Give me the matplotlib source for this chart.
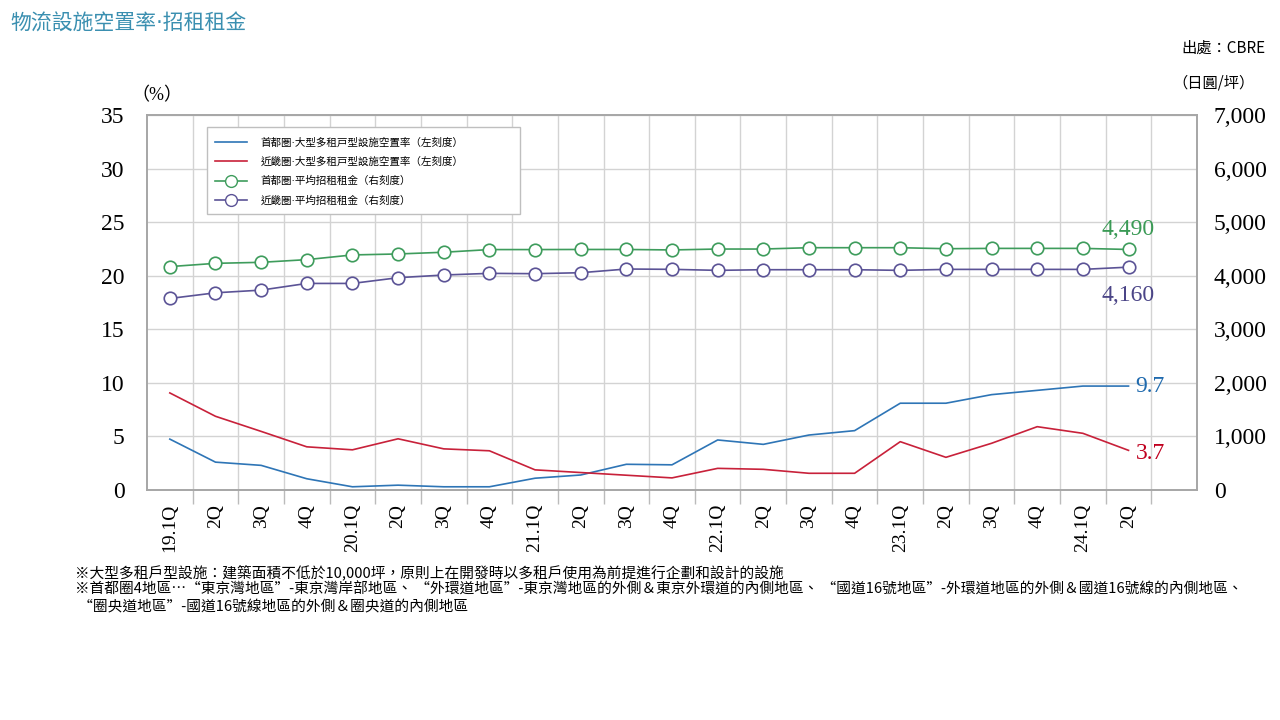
import matplotlib
matplotlib.use("Agg")
import matplotlib.pyplot as plt
from matplotlib.lines import Line2D
from matplotlib.patches import Rectangle

CJK = ["Noto Sans CJK TC", "DejaVu Sans"]
DOTCJK = ["DejaVu Sans", "Noto Sans CJK TC"]
SERIF = ["Liberation Serif", "DejaVu Serif"]

quarters = ["19.1Q", "2Q", "3Q", "4Q", "20.1Q", "2Q", "3Q", "4Q", "21.1Q", "2Q", "3Q", "4Q",
            "22.1Q", "2Q", "3Q", "4Q", "23.1Q", "2Q", "3Q", "4Q", "24.1Q", "2Q"]

vac_tokyo = [4.75, 2.6, 2.3, 1.05, 0.3, 0.45, 0.3, 0.3, 1.1, 1.4, 2.4, 2.35,
             4.67, 4.26, 5.13, 5.54, 8.1, 8.1, 8.9, 9.3, 9.7, 9.7]
vac_kinki = [9.06, 6.88, 5.47, 4.03, 3.75, 4.78, 3.84, 3.66, 1.88, 1.63, 1.38, 1.13,
             2.02, 1.93, 1.56, 1.56, 4.51, 3.05, 4.36, 5.91, 5.29, 3.7]
rent_tokyo = [4170, 4231, 4250, 4300, 4388, 4406, 4438, 4488, 4488, 4490, 4490, 4481,
              4498, 4498, 4523, 4523, 4523, 4504, 4510, 4510, 4510, 4490]
rent_kinki = [3575, 3681, 3731, 3856, 3856, 3963, 4013, 4044, 4038, 4056, 4125, 4119,
              4100, 4112, 4112, 4112, 4100, 4118, 4118, 4118, 4118, 4160]

legend_labels = ["首都圏·大型多租戸型設施空置率（左刻度）",
                 "近畿圏·大型多租戸型設施空置率（左刻度）",
                 "首都圏·平均招租租金（右刻度）",
                 "近畿圏·平均招租租金（右刻度）"]

c_blue = "#2E75B6"
c_red = "#C8213A"
c_green = "#3E9C5C"
c_purple = "#5B5396"

fig = plt.figure(figsize=(12.8, 7.2), dpi=100)
ax = fig.add_axes([147/1280, 1-490/720, 1050/1280, 375/720])
ax2 = ax.twinx()

x = list(range(len(quarters)))
ax.plot(x, vac_tokyo, color=c_blue, lw=1.2, zorder=3)
ax.plot(x, vac_kinki, color=c_red, lw=1.2, zorder=3)
ax2.plot(x, rent_tokyo, color=c_green, lw=1.2, marker="o", ms=9,
         mfc="white", mec=c_green, mew=1.2, zorder=3)
ax2.plot(x, rent_kinki, color=c_purple, lw=1.2, marker="o", ms=9,
         mfc="white", mec=c_purple, mew=1.2, zorder=3)

ax.set_xlim(-0.5, 22.5)
ax.set_ylim(0, 35)
ax2.set_ylim(0, 7000)
ax.set_yticks(range(0, 36, 5))
ax2.set_yticks(range(0, 7001, 1000))
ax2.set_yticklabels([f"{v:,}" for v in range(0, 7001, 1000)])

for yv in range(5, 36, 5):
    ax.axhline(yv, color="#D3D3D3", lw=1.0, zorder=0)
for k in range(1, 23):
    ax.axvline(k - 0.5, color="#D3D3D3", lw=1.0, zorder=0)

ax.set_xticks(x)
ax.set_xticklabels(quarters, rotation=90, family=SERIF, fontsize=14, va="top")
ax.tick_params(axis="x", length=0, pad=10)
ax.set_xticks([k - 0.5 for k in range(1, 23)], minor=True)
ax.tick_params(axis="x", which="minor", length=10, color="#BBBBBB", width=1)

ax.tick_params(axis="y", length=0, pad=16, labelsize=17)
ax2.tick_params(axis="y", length=0, pad=12, labelsize=17)
for lab in ax.get_yticklabels() + ax2.get_yticklabels():
    lab.set_family(SERIF)

for a in (ax, ax2):
    for s in a.spines.values():
        s.set_color("#A6A6A6")
        s.set_linewidth(1.2)

ax2.annotate(f"{rent_tokyo[-1]:,}", (x[-1], rent_tokyo[-1]), xytext=(0, 7),
             textcoords="offset points", ha="center", va="bottom",
             color="#3A9A55", fontsize=17, family=SERIF)
ax2.annotate(f"{rent_kinki[-1]:,}", (x[-1], rent_kinki[-1]), xytext=(0, -13),
             textcoords="offset points", ha="center", va="top",
             color="#4B4587", fontsize=17, family=SERIF)
ax.annotate(f"{vac_tokyo[-1]}", (x[-1], vac_tokyo[-1]), xytext=(5, 0),
            textcoords="offset points", ha="left", va="center",
            color="#1F6AAE", fontsize=17, family=SERIF)
ax.annotate(f"{vac_kinki[-1]}", (x[-1], vac_kinki[-1]), xytext=(5, -2),
            textcoords="offset points", ha="left", va="center",
            color="#C0001F", fontsize=17, family=SERIF)

fig.patches.append(Rectangle((207/1280, 1-214/720), 313/1280, 87/720,
                             transform=fig.transFigure, facecolor="white",
                             edgecolor="#BFBFBF", lw=1.0, zorder=9))
handles = [Line2D([], [], color=c_blue, lw=1.2),
           Line2D([], [], color=c_red, lw=1.2),
           Line2D([], [], color=c_green, lw=1.2, marker="o", ms=8.5, mfc="white", mec=c_green),
           Line2D([], [], color=c_purple, lw=1.2, marker="o", ms=8.5, mfc="white", mec=c_purple)]
leg = fig.legend(handles, legend_labels, loc="upper left",
                 bbox_to_anchor=(212/1280, 1-134/720), frameon=False,
                 prop={"family": DOTCJK, "size": 7.6}, handlelength=3.0, labelspacing=0.85,
                 borderpad=0.3, handletextpad=1.3, borderaxespad=0)
leg.set_zorder(10)

fig.text(10/1280, 1-24/720, "物流設施空置率·招租租金", color="#3A8FB0", fontsize=15,
         family=DOTCJK, va="center", ha="left")
fig.text(1266/1280, 1-48/720, "出處：CBRE", fontsize=11, family=CJK, va="center", ha="right")
fig.text(1255/1280, 1-83/720, "（日圓/坪）", fontsize=11, family=CJK, va="center", ha="right")
fig.text(157/1280, 1-96/720, "（%）", fontsize=13, family=SERIF + CJK, va="center", ha="center")

notes = ["※大型多租戶型設施：建築面積不低於10,000坪，原則上在開發時以多租戶使用為前提進行企劃和設計的設施",
         "※首都圈4地區…“東京灣地區”-東京灣岸部地區、 “外環道地區”-東京灣地區的外側＆東京外環道的內側地區、 “國道16號地區”-外環道地區的外側＆國道16號線的內側地區、",
         " “圈央道地區”-國道16號線地區的外側＆圈央道的內側地區"]
for i, t in enumerate(notes):
    fig.text(75/1280, 1-(573 + 17*i)/720, t, fontsize=10.6, family=CJK, va="center", ha="left")

fig.savefig("out.png", dpi=100)
